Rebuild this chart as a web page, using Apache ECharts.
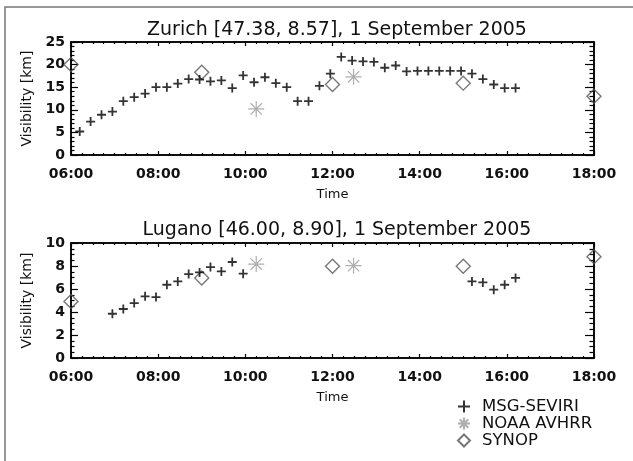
<!DOCTYPE html>
<html>
<head>
<meta charset="utf-8">
<script src="https://cdn.jsdelivr.net/npm/echarts@6/dist/echarts.min.js"></script>
<style>
html,body{margin:0;padding:0;background:#fff;}
#chart{width:633px;height:461px;}
</style>
</head>
<body>
<div id="chart"></div>
<script>
// ---------- DATA ----------
const titles = ["Zurich [47.38, 8.57], 1 September 2005", "Lugano [46.00, 8.90], 1 September 2005"];
const xTickLabels = ["06:00","08:00","10:00","12:00","14:00","16:00","18:00"];

const zurichSeviriTimes = ["06:12","06:27","06:42","06:57","07:12","07:27","07:42","07:57","08:12","08:27",
  "08:42","08:57","09:12","09:27","09:42","09:57","10:12","10:27","10:42","10:57",
  "11:12","11:27","11:42","11:57","12:12","12:27","12:42","12:57","13:12","13:27",
  "13:42","13:57","14:12","14:27","14:42","14:57","15:12","15:27","15:42","15:57","16:12"];
const zurichSeviriValues = [5.2,7.4,8.9,9.6,11.9,12.8,13.6,15.0,15.0,15.8,
  16.8,16.7,16.3,16.5,14.8,17.6,16.1,17.2,15.9,15.0,
  11.9,11.9,15.3,18.0,21.7,20.9,20.7,20.6,19.3,19.8,
  18.5,18.6,18.6,18.6,18.6,18.6,18.0,16.8,15.6,14.8,14.8];
const zurichNoaaTimes = ["10:15","12:29"];
const zurichNoaaValues = [10.2,17.3];
const zurichSynopTimes = ["06:00","09:00","12:00","15:00","18:00"];
const zurichSynopValues = [20.0,18.3,15.6,15.9,13.0];

const luganoSeviriTimes = ["06:57","07:12","07:27","07:42","07:57","08:12","08:27","08:42","08:57","09:12",
  "09:27","09:42","09:57","15:12","15:27","15:42","15:57","16:12"];
const luganoSeviriValues = [3.85,4.26,4.78,5.36,5.30,6.37,6.66,7.30,7.44,7.91,
  7.53,8.35,7.33,6.66,6.57,5.94,6.37,6.96];
const luganoNoaaTimes = ["10:15","12:29"];
const luganoNoaaValues = [8.17,8.03];
const luganoSynopTimes = ["06:00","09:00","12:00","15:00","18:00"];
const luganoSynopValues = [4.92,6.96,7.97,7.97,8.8];

const yMax = [25, 10];
const yInterval = [5, 2];
const yMinorSplit = [5, 4];

// ---------- HELPERS ----------
function toHours(s){ const p = s.split(":"); return (+p[0]) + (+p[1])/60; }
function pairs(times, vals){ return times.map((t,i)=>[toHours(t), vals[i]]); }
function fmtHour(v){ return xTickLabels[Math.round((v-6)/2)] || ""; }

const PLUS = 'path://M5,0L5,10M0,5L10,5';
const STAR = 'path://M0,5L10,5M5,0L5,10M1.46,1.46L8.54,8.54M1.46,8.54L8.54,1.46';
const DIAM = 'path://M5,0L10,5L5,10L0,5Z';

const FONT = 'DejaVu Sans';
const grids = [
  {left:71, right:39, top:42, height:113, show:true, borderColor:'#000', borderWidth:1.5},
  {left:71, right:39, top:243, height:115, show:true, borderColor:'#000', borderWidth:1.5}
];

const xAxes = [], yAxes = [];
[0,1].forEach(g=>{
  xAxes.push({
    type:'value', gridIndex:g, min:6, max:18, interval:2, position:'bottom',
    name:'Time', nameLocation:'middle', nameGap:33,
    nameTextStyle:{fontFamily:FONT, fontSize:13, color:'#111'},
    axisLine:{show:true, onZero:false, lineStyle:{color:'#000', width:1.5}},
    axisTick:{show:true, inside:true, length:4, lineStyle:{color:'#000', width:1.2}},
    minorTick:{show:true, splitNumber:8, length:2, lineStyle:{color:'#000', width:1.2}},
    axisLabel:{formatter:fmtHour, fontFamily:FONT, fontSize:14, fontWeight:'bold', color:'#111', margin:12},
    splitLine:{show:false}
  });
  xAxes.push({
    type:'value', gridIndex:g, min:6, max:18, interval:2, position:'top',
    axisLine:{show:true, onZero:false, lineStyle:{color:'#000', width:1.5}},
    axisTick:{show:true, inside:true, length:4, lineStyle:{color:'#000', width:1.2}},
    minorTick:{show:true, splitNumber:8, length:2, lineStyle:{color:'#000', width:1.2}},
    axisLabel:{show:false}, splitLine:{show:false}
  });
  yAxes.push({
    type:'value', gridIndex:g, min:0, max:yMax[g], interval:yInterval[g], position:'left',
    name:'Visibility [km]', nameLocation:'middle', nameGap:36, nameRotate:90,
    nameTextStyle:{fontFamily:FONT, fontSize:14, color:'#111'},
    axisLine:{show:true, onZero:false, lineStyle:{color:'#000', width:1.5}},
    axisTick:{show:true, inside:true, length:7, lineStyle:{color:'#000', width:1.2}},
    minorTick:{show:true, splitNumber:yMinorSplit[g], length:3.5, lineStyle:{color:'#000', width:1.2}},
    axisLabel:{fontFamily:FONT, fontSize:14, fontWeight:'bold', color:'#111', margin:6},
    splitLine:{show:false}
  });
  yAxes.push({
    type:'value', gridIndex:g, min:0, max:yMax[g], interval:yInterval[g], position:'right',
    axisLine:{show:true, onZero:false, lineStyle:{color:'#000', width:1.5}},
    axisTick:{show:true, inside:true, length:9, lineStyle:{color:'#000', width:1.2}},
    minorTick:{show:true, splitNumber:yMinorSplit[g], length:4.5, lineStyle:{color:'#000', width:1.2}},
    axisLabel:{show:false}, splitLine:{show:false}
  });
});

function seviri(g, data){ return {name:'MSG-SEVIRI', type:'scatter', xAxisIndex:g*2, yAxisIndex:g*2, data:data,
  symbol:PLUS, symbolSize:9, itemStyle:{color:'rgba(0,0,0,0)', borderColor:'#000', borderWidth:1.8}, z:3}; }
function noaa(g, data){ return {name:'NOAA AVHRR', type:'scatter', xAxisIndex:g*2, yAxisIndex:g*2, data:data,
  symbol:STAR, symbolSize:16, itemStyle:{color:'rgba(0,0,0,0)', borderColor:'#9a9a9a', borderWidth:1.2}, z:2}; }
function synop(g, data){ return {name:'SYNOP', type:'scatter', xAxisIndex:g*2, yAxisIndex:g*2, data:data,
  symbol:DIAM, symbolSize:[14,14], itemStyle:{color:'rgba(255,255,255,0)', borderColor:'#555', borderWidth:1.4}, z:2}; }

const option = {
  backgroundColor:'#fff',
  animation:false,
  title:[
    {text:titles[0], left:332, top:16, textAlign:'center', textStyle:{fontFamily:FONT, fontSize:19, fontWeight:'normal', color:'#111'}},
    {text:titles[1], left:332, top:216, textAlign:'center', textStyle:{fontFamily:FONT, fontSize:19, fontWeight:'normal', color:'#111'}}
  ],
  grid:grids,
  xAxis:xAxes,
  yAxis:yAxes,
  legend:{
    orient:'vertical', left:457, top:398, height:64, padding:0, itemWidth:26, itemHeight:12, itemGap:0,
    symbolKeepAspect:true,
    data:['MSG-SEVIRI','NOAA AVHRR','SYNOP'],
    textStyle:{fontFamily:FONT, fontSize:16.5, color:'#111', lineHeight:13}
  },
  graphic:[{type:'rect', shape:{x:5, y:7, width:700, height:600}, style:{fill:'none', stroke:'#777', lineWidth:1.5}, silent:true}],
  series:[
    seviri(0, pairs(zurichSeviriTimes, zurichSeviriValues)),
    noaa(0, pairs(zurichNoaaTimes, zurichNoaaValues)),
    synop(0, pairs(zurichSynopTimes, zurichSynopValues)),
    seviri(1, pairs(luganoSeviriTimes, luganoSeviriValues)),
    noaa(1, pairs(luganoNoaaTimes, luganoNoaaValues)),
    synop(1, pairs(luganoSynopTimes, luganoSynopValues))
  ]
};
const chart = echarts.init(document.getElementById('chart'), null, {renderer:'canvas'});
chart.setOption(option);
</script>
</body>
</html>
